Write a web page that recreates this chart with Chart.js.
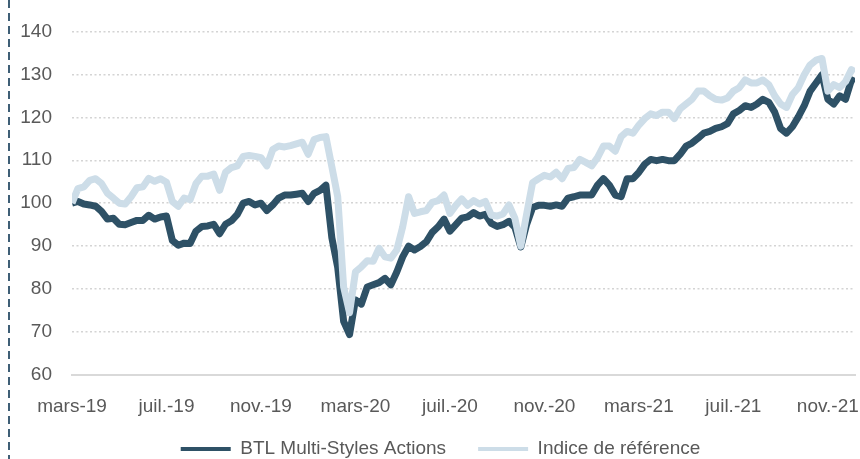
<!DOCTYPE html>
<html lang="fr">
<head>
<meta charset="utf-8">
<title>BTL Multi-Styles Actions</title>
<script src="https://cdn.jsdelivr.net/npm/chart.js@4.4.1/dist/chart.umd.min.js"></script>
<style>
  html, body { margin: 0; padding: 0; background: #fff; }
</style>
</head>
<body>
<canvas id="perfChart" width="860" height="459"></canvas>
<script>
// x position of each point, in months since 1 March 2019 (about one point a week)
const months = [
  0, 0.25, 0.5, 0.75, 1, 1.25, 1.5, 1.75, 2, 2.25, 2.5, 2.75,
  3, 3.25, 3.5, 3.75, 4, 4.25, 4.5, 4.75, 5, 5.25, 5.5, 5.75,
  6, 6.25, 6.5, 6.75, 7, 7.25, 7.5, 7.75, 8, 8.25, 8.5, 8.75,
  9, 9.25, 9.5, 9.75, 10, 10.25, 10.5, 10.75, 11, 11.25, 11.5, 11.75,
  12, 12.25, 12.5, 12.75, 13, 13.25, 13.5, 13.75, 14, 14.25, 14.5, 14.75,
  15, 15.25, 15.5, 15.75, 16, 16.25, 16.5, 16.75, 17, 17.25, 17.5, 17.75,
  18, 18.25, 18.5, 18.75, 19, 19.25, 19.5, 19.75, 20, 20.25, 20.5, 20.75,
  21, 21.25, 21.5, 21.75, 22, 22.25, 22.5, 22.75, 23, 23.25, 23.5, 23.75,
  24, 24.25, 24.5, 24.75, 25, 25.25, 25.5, 25.75, 26, 26.25, 26.5, 26.75,
  27, 27.25, 27.5, 27.75, 28, 28.25, 28.5, 28.75, 29, 29.25, 29.5, 29.75,
  30, 30.25, 30.5, 30.75, 31, 31.25, 31.5, 31.75, 32, 32.25, 32.5, 32.75,
  33, 33.15
];

// BTL Multi-Styles Actions (base 100)
const btl = [
  100.0, 100.4, 99.8, 99.6, 99.3, 98.1, 96.3, 96.5, 95.1, 95.0, 95.5, 96.0,
  96.0, 97.2, 96.3, 96.8, 97.0, 91.3, 90.2, 90.7, 90.6, 93.5, 94.6, 94.7,
  95.1, 92.9, 95.1, 95.9, 97.4, 100.0, 100.4, 99.6, 100.0, 98.3, 99.6, 101.2,
  101.9, 101.9, 102.1, 102.3, 100.4, 102.3, 103.0, 104.2, 92.0, 85.0, 72.5, 69.4,
  77.5, 76.5, 80.5, 81.0, 81.5, 82.5, 81.0, 84.0, 87.5, 90.0, 89.1, 89.9,
  91.0, 93.2, 94.5, 96.3, 93.5, 95.0, 96.5, 96.8, 97.8, 97.0, 97.4, 95.3,
  94.6, 95.0, 95.8, 94.4, 89.8, 95.1, 99.0, 99.5, 99.5, 99.3, 99.6, 99.3,
  101.2, 101.5, 101.9, 101.9, 101.9, 104.2, 105.7, 104.2, 101.9, 101.5, 105.7, 105.7,
  107.2, 109.1, 110.2, 109.9, 110.2, 109.9, 109.9, 111.4, 113.3, 114.0, 115.1, 116.3,
  116.7, 117.4, 117.8, 118.5, 120.8, 121.6, 122.7, 122.3, 123.1, 124.2, 123.5, 121.2,
  117.4, 116.3, 117.8, 120.1, 122.7, 126.1, 128.0, 129.9, 124.2, 123.1, 125.0, 124.2,
  128.7, 128.3
];

// Indice de référence (base 100)
const indice = [
  100.0, 103.4, 103.8, 105.3, 105.7, 104.6, 102.3, 101.2, 100.0, 99.8, 101.5, 103.6,
  103.8, 105.8, 105.1, 105.7, 104.9, 100.4, 99.3, 101.2, 100.8, 104.6, 106.3, 106.3,
  106.8, 103.0, 107.2, 108.3, 108.7, 110.9, 111.1, 110.9, 110.6, 108.7, 112.5, 113.3,
  113.1, 113.4, 113.8, 114.2, 111.4, 114.8, 115.3, 115.5, 108.5, 101.5, 80.5, 74.5,
  84.0, 85.2, 86.6, 86.5, 89.5, 87.5, 87.2, 89.1, 94.5, 101.5, 97.6, 98.0,
  98.3, 100.2, 100.6, 101.9, 97.6, 99.5, 101.0, 99.5, 100.6, 99.8, 100.4, 97.2,
  97.0, 97.5, 99.6, 96.5, 90.0, 97.5, 104.8, 105.7, 106.5, 106.1, 107.2, 105.7,
  108.1, 108.3, 110.2, 109.5, 108.7, 110.6, 113.3, 113.3, 112.1, 115.5, 116.7, 116.3,
  118.2, 119.7, 120.8, 120.4, 121.2, 121.2, 119.7, 122.0, 123.1, 124.2, 126.1, 126.1,
  125.0, 124.2, 124.0, 124.5, 126.1, 126.9, 128.7, 128.0, 128.0, 128.7, 127.6, 125.0,
  123.1, 122.3, 125.3, 126.9, 129.9, 132.2, 133.3, 133.7, 126.1, 127.6, 126.9, 128.3,
  131.1, 130.6
];

// x axis labels, one every 4 months
const tickMonths = [0, 4, 8, 12, 16, 20, 24, 28, 32];
const tickLabels = ["mars-19", "juil.-19", "nov.-19", "mars-20", "juil.-20", "nov.-20", "mars-21", "juil.-21", "nov.-21"];

const DARK = "#2e5166";
const LIGHT = "#cddde8";

Chart.defaults.font.family = "'Liberation Sans', Arial, sans-serif";
Chart.defaults.font.size = 19;
Chart.defaults.color = "#595959";

// dashed rule down the left edge of the picture
const leftRule = {
  id: "leftRule",
  beforeDraw(chart) {
    const ctx = chart.ctx;
    ctx.save();
    ctx.strokeStyle = "#3f5f76";
    ctx.lineWidth = 2;
    ctx.setLineDash([8, 5]);
    ctx.beginPath();
    ctx.moveTo(9, 0);
    ctx.lineTo(9, chart.height);
    ctx.stroke();
    ctx.restore();
  }
};

// move the legend row to where it sits in the original (slightly right, just above the bottom edge)
const legendShift = {
  id: "legendShift",
  afterLayout(chart) {
    chart.legend.left = 26;
    chart.legend.top = 407.5;
  }
};

const toPoints = values => months.map((m, i) => ({ x: m, y: values[i] }));

new Chart(document.getElementById("perfChart"), {
  type: "line",
  data: {
    datasets: [
      {
        label: "BTL Multi-Styles Actions",
        data: toPoints(btl),
        borderColor: DARK,
        backgroundColor: DARK,
        borderWidth: 7,
        pointRadius: 0,
        borderJoinStyle: "round",
        order: 2
      },
      {
        label: "Indice de référence",
        data: toPoints(indice),
        borderColor: LIGHT,
        backgroundColor: LIGHT,
        borderWidth: 7,
        pointRadius: 0,
        borderJoinStyle: "round",
        order: 1 // drawn above the fund line
      }
    ]
  },
  options: {
    responsive: false,
    animation: false,
    events: [],
    layout: { padding: { left: 0, right: 5, top: 22, bottom: -22 } },
    plugins: {
      tooltip: { enabled: false },
      legend: {
        position: "bottom",
        labels: {
          usePointStyle: true,
          pointStyle: "line",
          pointStyleWidth: 50,
          padding: 32,
          color: "#595959",
          sort: (a, b) => a.datasetIndex - b.datasetIndex,
          generateLabels: chart =>
            Chart.defaults.plugins.legend.labels.generateLabels(chart).map(item => ({ ...item, lineWidth: 4 }))
        }
      }
    },
    scales: {
      x: {
        type: "linear",
        min: 0,
        max: 33.15,
        grid: { display: false, drawTicks: false },
        border: { display: true, color: "#d9d9d9", width: 2 },
        ticks: {
          padding: 20,
          maxRotation: 0,
          autoSkip: false,
          callback: v => {
            const i = tickMonths.indexOf(v);
            return i >= 0 ? tickLabels[i] : "";
          }
        },
        afterBuildTicks: s => { s.ticks = tickMonths.map(v => ({ value: v })); },
        afterFit: s => {
          s.height = 45;
          s.paddingLeft = 0;
          s.paddingRight = 0;
        }
      },
      y: {
        min: 60,
        max: 140,
        ticks: { stepSize: 10, padding: 20 },
        grid: {
          drawTicks: false,
          lineWidth: 1.5,
          color: c => (c.tick && c.tick.value === 60 ? "rgba(0,0,0,0)" : "#d4d4d4")
        },
        border: { display: false, dash: [2, 2.5] },
        afterFit: s => { s.width = 72; }
      }
    }
  },
  plugins: [leftRule, legendShift]
});
</script>
</body>
</html>
